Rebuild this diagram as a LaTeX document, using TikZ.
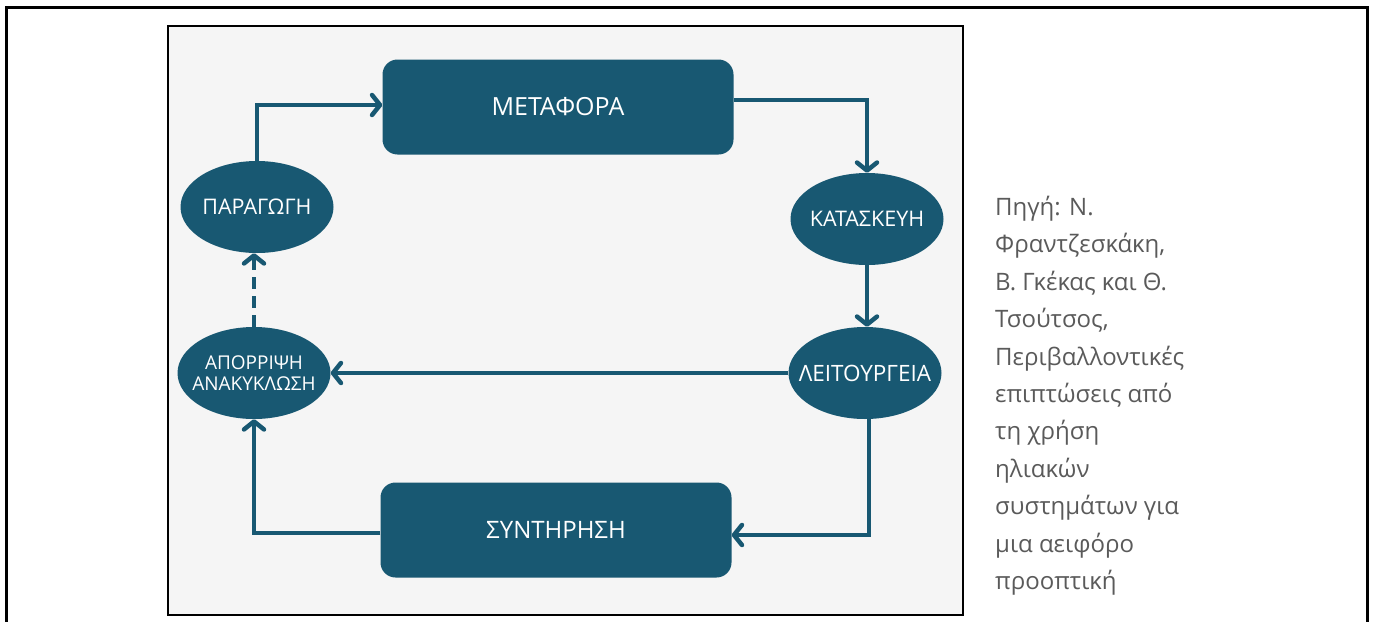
\documentclass[tikz,border=0pt]{standalone}
\usepackage{fontspec}
\setmainfont{Open Sans}
\usepackage{tikz}
\usetikzlibrary{arrows.meta,shapes.geometric}
\definecolor{petrol}{RGB}{24,88,114}
\definecolor{paper}{RGB}{245,245,245}
\definecolor{note}{RGB}{90,90,90}

\begin{document}
\begin{tikzpicture}[x=1pt, y=-1pt,
  box/.style={fill=petrol, rounded corners=15pt, minimum width=351pt, minimum height=95pt,
    text=white, font=\fontsize{25}{30}\selectfont},
  oval/.style={ellipse, fill=petrol, minimum width=153pt, minimum height=92pt,
    inner xsep=-16pt, inner ysep=0pt, text=white, align=center, font=\fontsize{21.5}{24}\selectfont},
  flow/.style={draw=petrol, line width=4.5pt, -{Straight Barb[length=8pt,width=20pt,round]}}]
%%%%% Frame %%%%%
\useasboundingbox (0,0) rectangle (1373,621);
\draw[line width=3pt] (6,640)--(6,7)--(1367,7)--(1367,640);
\draw[fill=paper, line width=2pt] (168,26) rectangle (963,615);
%%%%% Nodes %%%%%
\node[box] (metafora) at (558,107) {ΜΕΤΑΦΟΡΑ};
\node[box, font=\fontsize{24}{30}\selectfont] (syntirisi) at (556,530) {ΣΥΝΤΗΡΗΣΗ};
\node[oval] (paragogi) at (257,207) {ΠΑΡΑΓΩΓΗ};
\node[oval] (kataskevi) at (867,219) {ΚΑΤΑΣΚΕΥΗ};
\node[oval, font=\fontsize{22.5}{24}\selectfont] (leitourgeia) at (865,373) {ΛΕΙΤΟΥΡΓΕΙΑ};
\node[oval, font=\fontsize{19}{21}\selectfont] (aporripsi) at (254,373) {ΑΠΟΡΡΙΨΗ\\ΑΝΑΚΥΚΛΩΣΗ};
\node[anchor=north west, inner sep=0pt, align=left, text=note,
  font=\fontsize{24}{37.4}\selectfont] (source) at (995,196)
  {Πηγή: Ν.\\Φραντζεσκάκη,\\Β. Γκέκας και Θ.\\Τσούτσος,\\Περιβαλλοντικές\\επιπτώσεις από\\τη χρήση\\ηλιακών\\συστημάτων για\\μια αειφόρο\\προοπτική};
%%%%% Cycle %%%%%
\draw[flow] (paragogi.north) |- ([yshift=2pt]metafora.west);
\draw[flow] ([yshift=7pt]metafora.east) -| (kataskevi.north);
\draw[flow] (kataskevi.south) -- (kataskevi.south |- leitourgeia.north);
\draw[flow] (leitourgeia.west) -- (aporripsi.east);
\draw[flow] ([xshift=4pt]leitourgeia.south) |- ([yshift=-5pt]syntirisi.east);
\draw[flow] ([yshift=-3pt]syntirisi.west) -| (aporripsi.south);
\draw[flow, dash pattern=on 12pt off 7pt] (aporripsi.north) -- (aporripsi.north |- paragogi.south);
\end{tikzpicture}
\end{document}
